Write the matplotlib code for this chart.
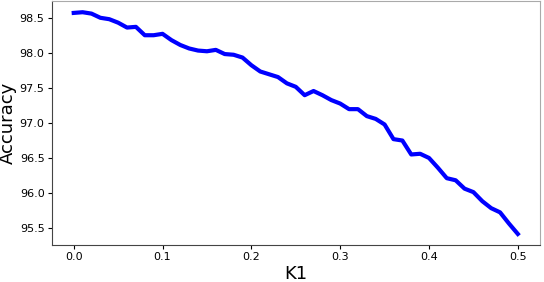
import matplotlib
matplotlib.use("Agg")
import matplotlib.pyplot as plt
import numpy as np

k1 = [round(0.01 * i, 2) for i in range(51)]
accuracy = [98.58, 98.59, 98.57, 98.51, 98.49, 98.44, 98.37, 98.38, 98.26, 98.26,
            98.28, 98.19, 98.12, 98.07, 98.04, 98.03, 98.05, 97.99, 97.98, 97.94,
            97.83, 97.74, 97.70, 97.66, 97.57, 97.52, 97.40, 97.46, 97.40, 97.33,
            97.28, 97.20, 97.20, 97.10, 97.06, 96.98, 96.77, 96.75, 96.55, 96.56,
            96.50, 96.36, 96.21, 96.18, 96.06, 96.01, 95.88, 95.78, 95.72, 95.56,
            95.41]
xticks = [0.0, 0.1, 0.2, 0.3, 0.4, 0.5]
yticks = [95.5, 96.0, 96.5, 97.0, 97.5, 98.0, 98.5]

fig = plt.figure(figsize=(5.44, 2.82), dpi=100)
ax = fig.add_axes([0.0947, 0.131, 0.898, 0.865])
ax.plot(k1, accuracy, color="blue", linewidth=3)
ax.set_xticks(xticks)
ax.set_yticks(yticks)
ax.set_xticklabels([f"{v:.1f}" for v in xticks], fontsize=8)
ax.set_yticklabels([f"{v:.1f}" for v in yticks], fontsize=8)
ax.set_xlabel("K1", fontsize=13, labelpad=2)
ax.set_ylabel("Accuracy", fontsize=13, labelpad=2)
ax.tick_params(length=3, width=0.8, pad=2)
for s in ["left", "bottom"]:
    ax.spines[s].set_color("#444444")
for s in ["top", "right"]:
    ax.spines[s].set_color("#aaaaaa")
fig.savefig("out.png", dpi=100)
